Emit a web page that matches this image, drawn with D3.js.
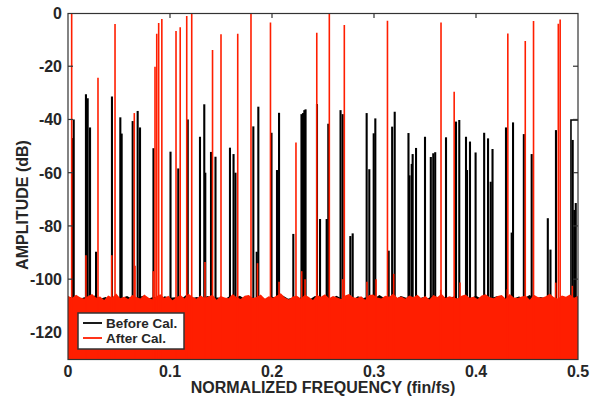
<!DOCTYPE html>
<html>
<head>
<meta charset="utf-8">
<script src="https://cdn.jsdelivr.net/npm/d3@7"></script>
<style>
  body { margin: 0; background: #fff; }
  text { font-family: "Liberation Sans", Arial, Helvetica, sans-serif; font-weight: bold; fill: #262626; }
</style>
</head>
<body>
<div id="chart"></div>
<script>
// spectrum peaks: [normalized freq, dB]
var blackSpikes = [
  [0.0046, -47], [0.0056, -40], [0.0176, -30.5], [0.0193, -32], [0.0216, -43],
  [0.0275, -89.7], [0.0431, -31.4], [0.0513, -39.2], [0.0526, -45.3], [0.0634, -40.6],
  [0.0683, -36.8], [0.0706, -43], [0.0838, -50.8], [0.1005, -52.1], [0.1081, -58.4],
  [0.1174, -40], [0.1294, -46.5], [0.1336, -34.3], [0.1346, -60], [0.1402, -52.2],
  [0.1446, -54], [0.1588, -50.6], [0.1623, -53], [0.1642, -60], [0.1817, -42.6],
  [0.1850, -89.7], [0.1866, -35.2], [0.1995, -45], [0.2049, -59], [0.2069, -37.5],
  [0.2209, -83], [0.2289, -38], [0.2304, -37.6], [0.2317, -36.5], [0.2329, -36.2],
  [0.2441, -34.2], [0.2471, -77.4], [0.2536, -77.4], [0.2552, -41.6], [0.2672, -36.5],
  [0.2693, -38], [0.2768, -83.8], [0.2791, -82.8], [0.2928, -37.6], [0.2954, -58.7],
  [0.2997, -45.2], [0.3013, -39.6], [0.3144, -89.3], [0.3178, -42.7], [0.3203, -37.1],
  [0.3338, -45.1], [0.3348, -61], [0.3370, -56.7], [0.3379, -53], [0.3412, -50.7],
  [0.3500, -46.5], [0.3557, -54.1], [0.3581, -52.7], [0.3600, -52.3], [0.3706, -46.7],
  [0.3804, -40.8], [0.3836, -40.2], [0.3902, -46.5], [0.3912, -59], [0.3941, -48.3],
  [0.3996, -52.4], [0.4080, -45], [0.4118, -47.1], [0.4144, -63.4], [0.4162, -51.1],
  [0.4294, -43], [0.4350, -82.5], [0.4363, -41.1], [0.4469, -45.5], [0.4546, -53],
  [0.4704, -77.1], [0.4730, -88.9], [0.4784, -44], [0.4948, -47.7], [0.4964, -74],
  [0.4978, -71.4]
];
// last black bin near Nyquist stays high up to the edge
var blackEdge = [[0.4931, -130], [0.4931, -40.2], [0.5, -40.2]];

var redSpikes = [
  [0.0036, 0], [0.0294, -24.3], [0.0461, -4.1], [0.0650, -37.6], [0.0853, -20.2],
  [0.0870, -7.8], [0.0889, -3.8], [0.0920, -2.3], [0.1059, -6.8], [0.1100, -5.4],
  [0.1164, -1.1], [0.1213, 0], [0.1417, -13.9], [0.1500, -8], [0.1664, -7.8],
  [0.1794, 0], [0.1985, -3.6], [0.2235, -48.7], [0.2439, -7.4], [0.2562, 0],
  [0.2709, -4.5], [0.3132, -2.9], [0.3657, -3.6], [0.3786, -29.6], [0.4312, -7.7],
  [0.4483, -10.5], [0.4564, -3], [0.4807, -4], [0.4825, -2.4]
];
var redSmall = [
  [0.0176, -91], [0.0429, -91], [0.0657, -95], [0.0836, -97], [0.1343, -93.6],
  [0.1858, -94], [0.2069, -101], [0.2291, -97], [0.2324, -100], [0.2693, -100],
  [0.2931, -101], [0.3020, -100], [0.3193, -98], [0.3654, -104], [0.3843, -101.3],
  [0.4307, -103.8], [0.4781, -101.3], [0.4944, -102.5]
];

// noise floor tops (dB), evenly spaced over 0..0.5
var redFloor = [
  -106.2,-107.1,-105.9,-106.8,-107.4,-106.3,-105.6,-107.0,-106.5,-107.8,
  -106.1,-106.9,-105.4,-107.2,-106.6,-107.5,-106.0,-106.7,-107.3,-105.8,
  -106.9,-107.6,-106.4,-105.7,-107.1,-106.2,-107.9,-106.8,-106.0,-107.3,
  -105.5,-106.6,-107.4,-106.1,-107.0,-106.5,-105.9,-107.7,-106.3,-106.9,
  -107.2,-105.6,-106.8,-107.5,-106.2,-106.0,-107.1,-106.7,-105.8,-107.4,
  -106.4,-107.0,-106.1,-105.3,-106.9,-107.6,-106.5,-106.2,-107.3,-105.9,
  -106.7,-107.8,-106.0,-106.6,-105.7,-107.2,-106.3,-106.9,-107.5,-106.1,
  -105.6,-106.8,-107.1,-106.4,-107.7,-106.0,-105.8,-106.9,-107.3,-106.2,
  -106.6,-105.4,-107.0,-106.5,-107.4,-106.1,-106.8,-105.9,-107.2,-106.3,
  -107.6,-106.0,-106.7,-105.5,-107.1,-106.4,-106.9,-107.3,-106.2,-105.8,
  -107.0,-106.6,-107.5,-106.1,-105.7,-106.8,-107.2,-106.3,-106.0,-107.4,
  -105.6,-106.9,-107.1,-106.5,-106.2,-107.7,-105.9,-106.7,-107.0,-106.4,
  -105.5,-106.8,-107.3,-106.1,-106.6,-105.8,-107.0,-106.3
];
var blackFloor = [
  -107.0,-106.4,-107.6,-106.8,-107.2,-106.1,-107.4,-106.7,-107.9,-106.5,
  -107.1,-106.3,-107.5,-106.9,-106.2,-107.3,-106.6,-107.8,-106.4,-107.0,
  -106.8,-107.6,-106.0,-107.2,-106.7,-107.4,-106.3,-107.0,-106.9,-107.7,
  -106.5,-107.1,-106.2,-107.5,-106.8,-107.3,-106.4,-107.9,-106.6,-107.0,
  -106.1,-107.4,-106.9,-107.2,-106.5,-107.6,-106.3,-107.0,-106.8,-107.5,
  -106.2,-107.3,-106.7,-107.8,-106.4,-107.1,-106.6,-107.4,-106.0,-107.2,
  -106.9,-107.6,-106.3,-107.0,-106.5,-107.7,-106.8,-107.3,-106.1,-107.5,
  -106.7,-107.1,-106.4,-107.9,-106.6,-107.2,-106.2,-107.4,-106.9,-107.0,
  -106.3,-107.6,-106.8,-107.3,-106.5,-107.1,-106.0,-107.5,-106.7,-107.2,
  -106.4,-107.8,-106.6,-107.0,-106.9,-107.3
];

var xTicks = [0, 0.1, 0.2, 0.3, 0.4, 0.5];
var yTicks = [-120, -100, -80, -60, -40, -20, 0];
var legendLabels = ["Before Cal.", "After Cal."];

var width = 599, height = 398;
var margin = {top: 13, right: 21, bottom: 39, left: 68};
var black = "#000000", red = "#ff1e00", axisColor = "#333333";

var xScale = d3.scaleLinear()
    .domain([0, 0.5])
    .range([margin.left, width - margin.right]);
var yScale = d3.scaleLinear()
    .domain([-130, 0])
    .range([height - margin.bottom, margin.top]);

var svg = d3.select("#chart")
    .append("svg")
    .attr("width", width)
    .attr("height", height);

svg.append("clipPath")
    .attr("id", "plot-clip")
    .append("rect")
    .attr("x", margin.left)
    .attr("y", margin.top)
    .attr("width", width - margin.left - margin.right)
    .attr("height", height - margin.top - margin.bottom);

var plot = svg.append("g").attr("clip-path", "url(#plot-clip)");

function floorArea(values) {
    var step = 0.5 / (values.length - 1);
    return d3.area()
        .x((d, i) => xScale(i * step))
        .y0(yScale(-130))
        .y1(d => yScale(d))(values);
}

// before calibration (drawn first, underneath)
plot.append("path")
    .attr("d", floorArea(blackFloor))
    .attr("fill", black);

plot.selectAll(".black-spike")
    .data(blackSpikes)
    .join("line")
    .attr("class", "black-spike")
    .attr("x1", d => xScale(d[0]))
    .attr("x2", d => xScale(d[0]))
    .attr("y1", yScale(-130))
    .attr("y2", d => yScale(d[1]))
    .attr("stroke", black)
    .attr("stroke-width", 2.1);

plot.append("path")
    .attr("d", d3.line().x(d => xScale(d[0])).y(d => yScale(d[1]))(blackEdge))
    .attr("fill", "none")
    .attr("stroke", black)
    .attr("stroke-width", 1.6);

// after calibration
plot.append("path")
    .attr("d", floorArea(redFloor))
    .attr("fill", red);

plot.selectAll(".red-spike")
    .data(redSpikes.concat(redSmall))
    .join("line")
    .attr("class", "red-spike")
    .attr("x1", d => xScale(d[0]))
    .attr("x2", d => xScale(d[0]))
    .attr("y1", yScale(-130))
    .attr("y2", d => yScale(d[1]))
    .attr("stroke", red)
    .attr("stroke-width", 1.6);

// box and ticks
var x0 = xScale(0), x1 = xScale(0.5), y0 = yScale(-130), y1 = yScale(0);
svg.append("rect")
    .attr("x", x0)
    .attr("y", y1 + 0.5)
    .attr("width", x1 - x0)
    .attr("height", y0 - y1)
    .attr("fill", "none")
    .attr("stroke", axisColor)
    .attr("stroke-width", 1.2);

svg.selectAll(".xtick-top")
    .data(xTicks.slice(1, -1))
    .join("line")
    .attr("x1", d => xScale(d))
    .attr("x2", d => xScale(d))
    .attr("y1", y1)
    .attr("y2", y1 + 5)
    .attr("stroke", axisColor)
    .attr("stroke-width", 1.2);

svg.selectAll(".ytick-right")
    .data(yTicks.slice(1, -1))
    .join("line")
    .attr("x1", x1)
    .attr("x2", x1 - 5)
    .attr("y1", d => yScale(d))
    .attr("y2", d => yScale(d))
    .attr("stroke", axisColor)
    .attr("stroke-width", 1.2);

svg.selectAll(".ytick-left")
    .data(yTicks.slice(1, -1))
    .join("line")
    .attr("x1", x0)
    .attr("x2", x0 + 5)
    .attr("y1", d => yScale(d))
    .attr("y2", d => yScale(d))
    .attr("stroke", axisColor)
    .attr("stroke-width", 1.2);

svg.selectAll(".xlabel")
    .data(xTicks)
    .join("text")
    .attr("x", d => xScale(d))
    .attr("y", 377)
    .attr("text-anchor", "middle")
    .attr("font-size", 16)
    .text(d => d === 0 ? "0" : d3.format(".1f")(d));

svg.selectAll(".ylabel")
    .data(yTicks)
    .join("text")
    .attr("x", 62)
    .attr("y", d => yScale(d) + 6)
    .attr("text-anchor", "end")
    .attr("font-size", 16)
    .text(d => d);

svg.append("text")
    .attr("x", (x0 + x1) / 2)
    .attr("y", 393)
    .attr("text-anchor", "middle")
    .attr("font-size", 16)
    .text("NORMALIZED FREQUENCY (fin/fs)");

svg.append("text")
    .attr("transform", "translate(28,205) rotate(-90)")
    .attr("text-anchor", "middle")
    .attr("font-size", 16)
    .text("AMPLITUDE (dB)");

// legend
var legend = svg.append("g").attr("transform", "translate(78,313)");
legend.append("rect")
    .attr("width", 106)
    .attr("height", 36)
    .attr("fill", "#fff")
    .attr("stroke", axisColor)
    .attr("stroke-width", 1.5);

legend.selectAll(".entry")
    .data(legendLabels)
    .join("g")
    .attr("transform", (d, i) => `translate(0, ${10 + i * 15})`)
    .each(function(d, i) {
        var g = d3.select(this);
        g.append("line")
            .attr("x1", 5).attr("x2", 24)
            .attr("stroke", i === 0 ? black : red)
            .attr("stroke-width", 1.8);
        g.append("text")
            .attr("x", 28)
            .attr("y", 5)
            .attr("font-size", 13.5)
            .attr("fill", "#000")
            .text(d);
    });
</script>
</body>
</html>
